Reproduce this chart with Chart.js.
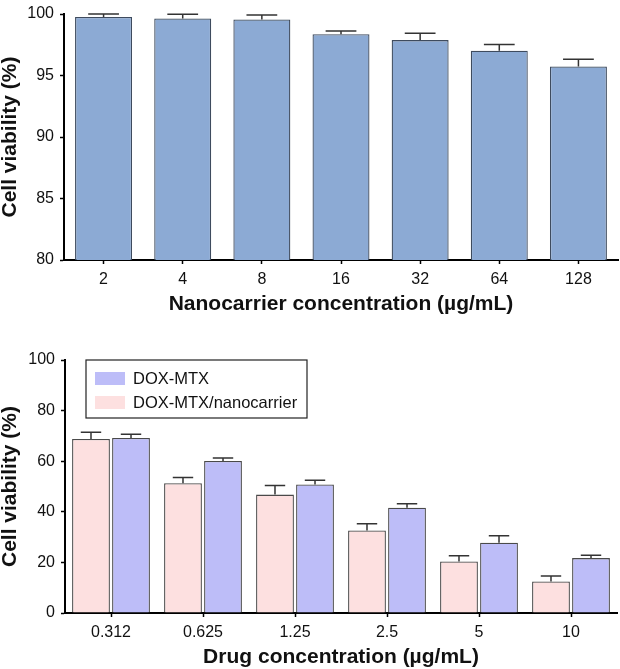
<!DOCTYPE html>
<html>
<head>
<meta charset="utf-8">
<script src="https://cdn.jsdelivr.net/npm/chart.js@4/dist/chart.umd.min.js"></script>
<style>
  html, body { margin: 0; padding: 0; background: #fff; }
  #wrap { position: relative; width: 620px; height: 669px; }
  canvas { position: absolute; left: 0; }
  #topChart { top: 0; }
  #bottomChart { top: 330px; }
</style>
</head>
<body>
<div id="wrap">
  <canvas id="topChart" width="620" height="316"></canvas>
  <canvas id="bottomChart" width="620" height="339"></canvas>
</div>
<script>
// top panel: nanocarrier alone
const carrierLabels = ['2', '4', '8', '16', '32', '64', '128'];
const carrierValues = [99.76, 99.63, 99.55, 98.36, 97.88, 97.01, 95.74];
const carrierErrors = [0.24, 0.35, 0.37, 0.26, 0.56, 0.51, 0.58];
const carrierTicks = [80, 85, 90, 95, 100];

// bottom panel: drug loaded vs free
const drugLabels = ['0.312', '0.625', '1.25', '2.5', '5', '10'];
const seriesNames = ['DOX-MTX/nanocarrier', 'DOX-MTX'];
const loadedValues = [68.8, 51.3, 46.8, 32.6, 20.4, 12.5];
const loadedErrors = [2.6, 2.3, 3.6, 2.7, 2.2, 2.1];
const freeValues = [69.2, 60.1, 50.8, 41.6, 27.8, 21.7];
const freeErrors = [1.5, 1.2, 1.7, 1.6, 2.7, 1.1];
const drugTicks = [0, 20, 40, 60, 80, 100];

const FONT = '"Liberation Sans", Arial, Helvetica, sans-serif';
Chart.defaults.font.family = FONT;
Chart.defaults.color = '#111';

// error bars (upper whisker only, like the figure)
const errorBars = {
  id: 'errorBars',
  afterDatasetsDraw(chart) {
    const ctx = chart.ctx;
    const y = chart.scales.y;
    ctx.save();
    ctx.strokeStyle = '#333';
    ctx.lineWidth = 1.5;
    chart.data.datasets.forEach((ds, i) => {
      const meta = chart.getDatasetMeta(i);
      meta.data.forEach((bar, j) => {
        const top = y.getPixelForValue(ds.data[j] + ds.errors[j]);
        const half = bar.width * 0.27;
        ctx.beginPath();
        ctx.moveTo(bar.x, bar.y);
        ctx.lineTo(bar.x, top);
        ctx.moveTo(bar.x - half, top);
        ctx.lineTo(bar.x + half, top);
        ctx.stroke();
      });
    });
    ctx.restore();
  }
};

// boxed legend inside the plot (DOX-MTX listed first)
const boxLegend = {
  id: 'boxLegend',
  afterDraw(chart) {
    const ctx = chart.ctx;
    const area = chart.chartArea;
    const left = area.left + 21, top = area.top, w = 221, h = 58;
    ctx.save();
    ctx.fillStyle = '#fff';
    ctx.fillRect(left, top, w, h);
    ctx.strokeStyle = '#222';
    ctx.lineWidth = 1.2;
    ctx.strokeRect(left, top, w, h);
    const items = chart.data.datasets.slice().reverse();
    items.forEach((ds, k) => {
      const sy = top + 12 + k * 24;
      ctx.fillStyle = ds.backgroundColor;
      ctx.fillRect(left + 9, sy, 30, 13);
      ctx.fillStyle = '#111';
      ctx.font = '16.5px ' + FONT;
      ctx.textBaseline = 'middle';
      ctx.fillText(ds.label, left + 47, sy + 7);
    });
    ctx.restore();
  }
};

function yAxis(min, max, step, width) {
  return {
    min: min, max: max,
    afterFit(scale) { scale.width = width; },
    ticks: { stepSize: step, padding: 6, font: { size: 16, lineHeight: 1 }, color: '#111' },
    grid: { drawOnChartArea: false, tickLength: 4, color: '#000', tickWidth: 1.5 },
    border: { color: '#000', width: 2 },
    title: {
      display: true, text: 'Cell viability (%)', color: '#111',
      font: { size: 21, weight: 'bold', lineHeight: 1 }, padding: { top: 0, bottom: 0 }
    }
  };
}

function xAxis(title) {
  return {
    afterFit(scale) { scale.height = 56; },
    ticks: { padding: 6, font: { size: 16 }, color: '#111' },
    grid: { offset: false, drawOnChartArea: false, tickLength: 4, color: '#000', tickWidth: 1.5 },
    border: { color: '#000', width: 2 },
    title: {
      display: true, text: title, color: '#111',
      font: { size: 21, weight: 'bold', lineHeight: 1 }, padding: { top: 0, bottom: 1 }
    }
  };
}

new Chart(document.getElementById('topChart'), {
  type: 'bar',
  data: {
    labels: carrierLabels,
    datasets: [{
      data: carrierValues,
      errors: carrierErrors,
      backgroundColor: '#8caad4',
      borderColor: '#3e4b5e',
      borderWidth: 1.3,
      barPercentage: 0.72,
      categoryPercentage: 1
    }]
  },
  options: {
    responsive: false,
    devicePixelRatio: 1,
    animation: false,
    layout: { padding: { top: 7, right: 2, left: 0, bottom: 0 } },
    plugins: { legend: { display: false }, tooltip: { enabled: false } },
    scales: {
      x: xAxis('Nanocarrier concentration (\u00b5g/mL)'),
      y: yAxis(carrierTicks[0], carrierTicks[carrierTicks.length - 1], 5, 64)
    }
  },
  plugins: [errorBars]
});

new Chart(document.getElementById('bottomChart'), {
  type: 'bar',
  data: {
    labels: drugLabels,
    datasets: [{
      label: seriesNames[0],
      data: loadedValues,
      errors: loadedErrors,
      backgroundColor: '#fde0e0',
      borderColor: '#4a4a4a',
      borderWidth: 1.3,
      barPercentage: 0.945,
      categoryPercentage: 0.87
    }, {
      label: seriesNames[1],
      data: freeValues,
      errors: freeErrors,
      backgroundColor: '#bdbdf8',
      borderColor: '#4a4a4a',
      borderWidth: 1.3,
      barPercentage: 0.945,
      categoryPercentage: 0.87
    }]
  },
  options: {
    responsive: false,
    devicePixelRatio: 1,
    animation: false,
    layout: { padding: { top: 30, right: 3, left: 0, bottom: 0 } },
    plugins: { legend: { display: false }, tooltip: { enabled: false } },
    scales: {
      x: xAxis('Drug concentration (\u00b5g/mL)'),
      y: yAxis(drugTicks[0], drugTicks[drugTicks.length - 1], 20, 65)
    }
  },
  plugins: [errorBars, boxLegend]
});
</script>
</body>
</html>
